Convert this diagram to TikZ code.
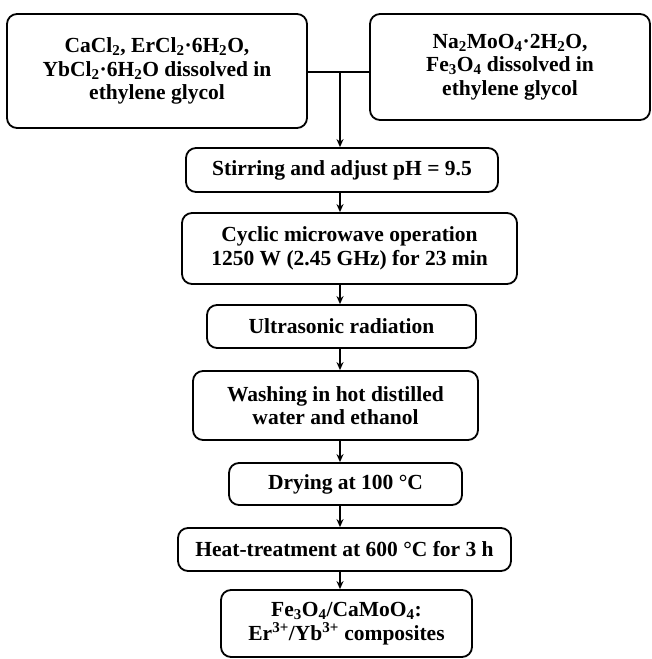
\documentclass[tikz,border=0pt]{standalone}
\usepackage{fontspec}
\setmainfont{Liberation Serif}
\usetikzlibrary{arrows.meta}
\newcommand{\sbs}[1]{\textsubscript{#1}}
\newcommand{\sps}[1]{\textsuperscript{#1}}
\begin{document}
\begin{tikzpicture}[x=1pt,y=-1pt,
  box/.style={draw, line width=1.8pt, rounded corners=10pt, inner sep=0pt,
    align=center, font=\fontsize{21.5}{23.5}\selectfont\bfseries},
  arr/.style={line width=1.5pt, -{Stealth[length=8pt,width=7pt]}},
  link/.style={line width=1.8pt}]
\useasboundingbox (0,0) rectangle (652,659);
\node[box, minimum width=300pt, minimum height=114pt] (L) at (157,71)
  {CaCl\sbs{2}, ErCl\sbs{2}·6H\sbs{2}O,\\YbCl\sbs{2}·6H\sbs{2}O dissolved in\\ethylene glycol};
\node[box, minimum width=280pt, minimum height=106pt] (R) at (510,67)
  {Na\sbs{2}MoO\sbs{4}·2H\sbs{2}O,\\Fe\sbs{3}O\sbs{4} dissolved in\\ethylene glycol};
\node[box, minimum width=312pt, minimum height=44pt] (S1) at (342,170)
  {Stirring and adjust pH = 9.5};
\node[box, minimum width=335pt, minimum height=71pt] (S2) at (349.5,248.5)
  {Cyclic microwave operation\\1250 W (2.45 GHz) for 23 min};
\node[box, minimum width=269pt, minimum height=43pt] (S3) at (341.5,326.5)
  {Ultrasonic radiation};
\node[box, minimum width=285pt, minimum height=69pt] (S4) at (335.5,405.5)
  {Washing in hot distilled\\water and ethanol};
\node[box, minimum width=233pt, minimum height=42pt] (S5) at (345.5,484)
  {Drying at 100 °C};
\node[box, minimum width=333pt, minimum height=43pt] (S6) at (344.5,549.5)
  {Heat-treatment at 600 °C for 3 h};
\node[box, minimum width=251pt, minimum height=67pt] (S7) at (346.5,623.5)
  {Fe\sbs{3}O\sbs{4}/CaMoO\sbs{4}:\\Er\sps{3+}/Yb\sps{3+} composites};
\coordinate (J) at (340,72);
\draw[link] (L.east |- J) -- (R.west |- J);
\draw[arr] (J) -- (S1.north -| J);
\draw[arr] (S1.south -| J) -- (S2.north -| J);
\draw[arr] (S2.south -| J) -- (S3.north -| J);
\draw[arr] (S3.south -| J) -- (S4.north -| J);
\draw[arr] (S4.south -| J) -- (S5.north -| J);
\draw[arr] (S5.south -| J) -- (S6.north -| J);
\draw[arr] (S6.south -| J) -- (S7.north -| J);
\end{tikzpicture}
\end{document}
